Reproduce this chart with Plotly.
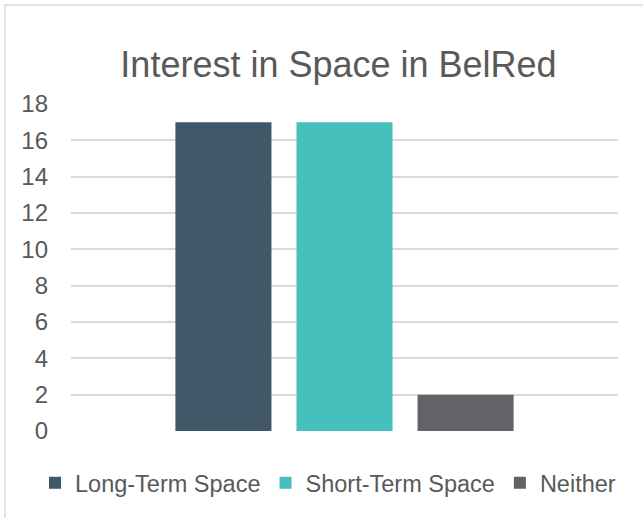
import plotly.graph_objects as go

categories = ["Interest in Space"]
series_names = ["Long-Term Space", "Short-Term Space", "Neither"]
series_values = [[17], [17], [2]]
series_colors = ["#415868", "#45C0BD", "#626366"]
y_ticks = [0, 2, 4, 6, 8, 10, 12, 14, 16, 18]

W, H = 643, 518
L, R, T, B = 71, 25, 104, 87
pw, ph = W - L - R, H - T - B

def px_x(p):
    return (p - L) / pw

def px_y(p):
    return (H - B - p) / ph

fig = go.Figure()
for name, vals, col in zip(series_names, series_values, series_colors):
    fig.add_trace(go.Bar(x=categories, y=vals, name=name, marker=dict(color=col, line=dict(width=0))))

fig.update_layout(
    width=W, height=H,
    margin=dict(l=L, r=R, t=T, b=B, pad=0),
    paper_bgcolor="white", plot_bgcolor="white",
    barmode="group", bargap=0.336, bargroupgap=0.2066,
    font=dict(family="Liberation Sans, Arial, sans-serif", color="#595959", size=23),
    title=dict(text="Interest in Space in BelRed", x=338.5 / W, xanchor="center",
               y=1 - 64.5 / H, yanchor="middle", xref="container", yref="container",
               font=dict(size=36, color="#595959")),
    xaxis=dict(showticklabels=False, showgrid=False, zeroline=False, showline=False, ticks=""),
    yaxis=dict(range=[0, 18], tickvals=y_ticks, ticks="", showline=False, zeroline=False,
               gridcolor="#d9d9d9", gridwidth=1.5, ticklabelstandoff=22,
               tickfont=dict(size=24, color="#595959")),
    showlegend=True,
    legend=dict(orientation="h", x=px_x(35), xanchor="left", y=px_y(483), yanchor="middle",
                font=dict(size=23.5, color="#595959"), bgcolor="rgba(0,0,0,0)"),
    shapes=[dict(type="path", xref="paper", yref="paper",
                 path=f"M {px_x(5)},{px_y(520)} L {px_x(5)},{px_y(5)} L {px_x(645)},{px_y(5)}",
                 line=dict(color="#d9d9d9", width=1.5), layer="below")],
)

fig.write_html("out.html", config={"displayModeBar": False},
               post_script="document.body.style.margin='0';document.body.style.overflow='hidden';")
